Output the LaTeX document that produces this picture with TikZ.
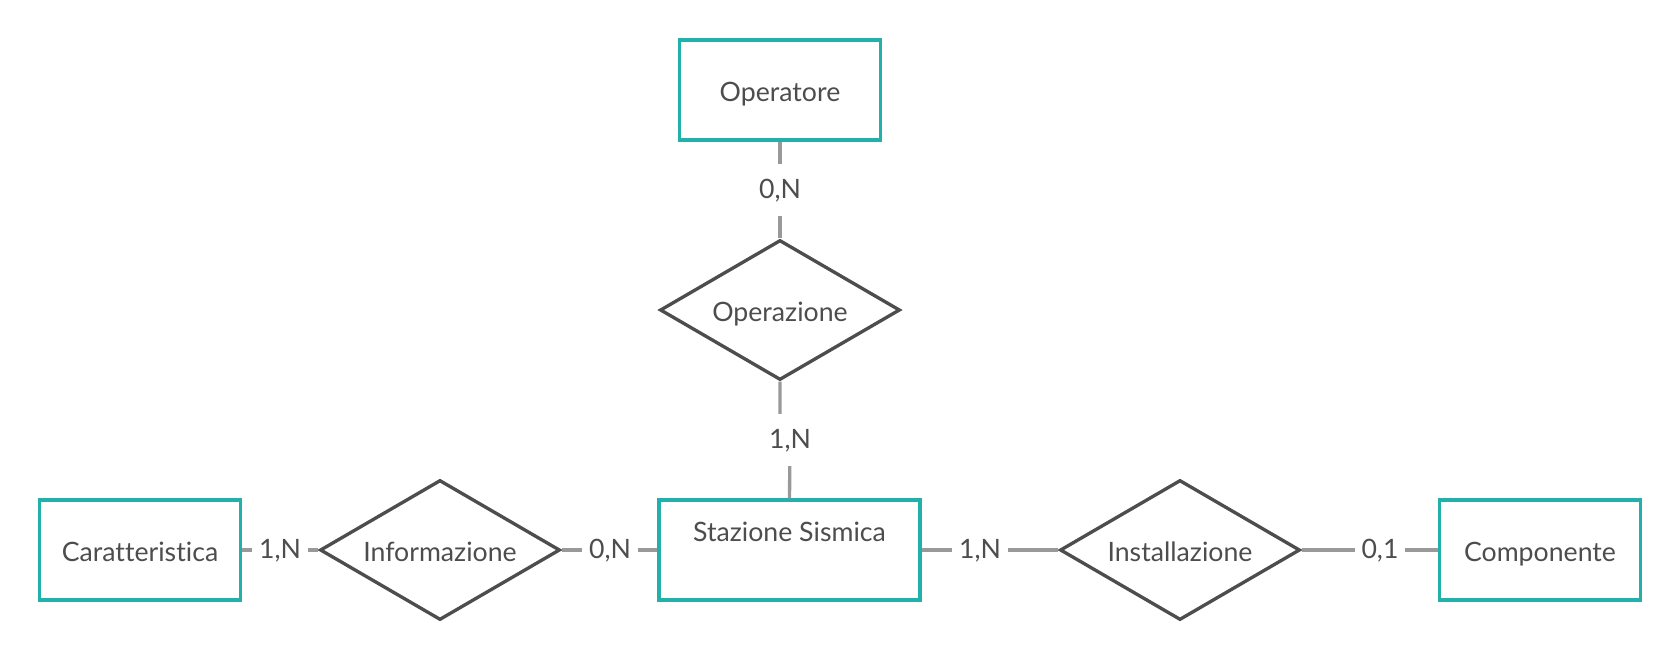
\documentclass[tikz,border=0pt]{standalone}
\usepackage{fontspec}
\setmainfont{Lato}[Ligatures=NoCommon]
\usetikzlibrary{shapes.geometric}
\definecolor{teal}{HTML}{22B0AB}
\definecolor{ink}{HTML}{4D4D4D}
\definecolor{conn}{HTML}{999999}
\tikzset{
  erfont/.style={font=\fontsize{20}{24}\selectfont},
  entity/.style={draw=teal, line width=2.5pt, fill=white, minimum width=150.75pt, minimum height=75pt, inner sep=0pt, text=ink, erfont, text height=19pt, text depth=2pt},
  relation/.style={draw=ink, line width=2.5pt, fill=white, diamond, aspect=1.714, minimum width=180pt, minimum height=105pt, inner sep=0pt, text=ink, erfont, text height=19pt, text depth=2pt},
  conline/.style={draw=conn, line width=2.5pt},
  card/.style={fill=white, text=ink, erfont, inner xsep=5pt, inner ysep=10pt, text height=16pt, text depth=3pt},
  plain/.style={text=ink, erfont, inner sep=0pt}
}
\begin{document}
\begin{tikzpicture}[x=0.75pt, y=-0.75pt]
\useasboundingbox (0,0) rectangle (1680,660);
\coordinate (jogA) at (780,440);
\coordinate (jogB) at (790,440);
% nodes
\node[entity] (op) at (780,90) {Operatore};
\node[relation] (opz) at (780,310) {Operazione};
\node[entity, minimum width=195.75pt] (st) at (789.5,550) {};
\node[plain] (stlabel) at (789.5,532) {Stazione Sismica};
\node[entity] (car) at (140,550) {Caratteristica};
\node[relation] (inf) at (440,550) {Informazione};
\node[relation] (ins) at (1180,550) {Installazione};
\node[entity] (comp) at (1540,550) {Componente};
% connectors
\draw[conline] (op.south) -- (opz.north);
\draw[conline] (opz.south) -- (jogA) -- (jogB) -- (st.north);
\draw[conline] (car.east) -- (inf.west);
\draw[conline] (inf.east) -- (st.west);
\draw[conline] (st.east) -- (ins.west);
\draw[conline] (ins.east) -- (comp.west);
% cardinality labels
\node[card] (c1) at (780,190) {0,N};
\node[card] (c2) at (790,440) {1,N};
\node[card] (c3) at (280,550) {1,N};
\node[card] (c4) at (610,550) {0,N};
\node[card] (c5) at (980,550) {1,N};
\node[card] (c6) at (1380,550) {0,1};
\end{tikzpicture}
\end{document}
